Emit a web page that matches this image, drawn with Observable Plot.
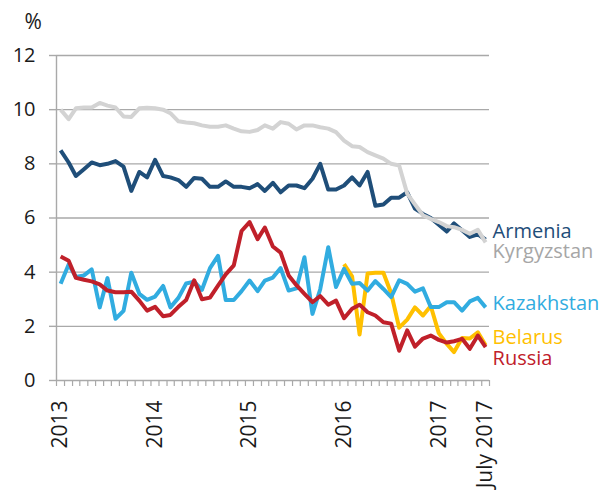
<!DOCTYPE html>
<html>
<head>
<meta charset="utf-8">
<script src="https://cdn.jsdelivr.net/npm/d3@7"></script>
<script src="https://cdn.jsdelivr.net/npm/@observablehq/plot@0.6"></script>
<style>
  html, body { margin: 0; padding: 0; background: #fff; }
  #chart { width: 608px; height: 492px; }
</style>
</head>
<body>
<div id="chart"></div>
<script>
// ---- Data (monthly, Jan 2013 – July 2017) ----
const countries = ["Armenia", "Belarus", "Kazakhstan", "Kyrgyzstan", "Russia"];

const armenia = [8.5, 8.05, 7.55, 7.8, 8.05, 7.95, 8.0, 8.1, 7.9, 7.0,
  7.7, 7.5, 8.15, 7.55, 7.5, 7.4, 7.15, 7.48, 7.45, 7.15,
  7.15, 7.35, 7.15, 7.15, 7.1, 7.25, 7.0, 7.3, 6.95, 7.2,
  7.2, 7.1, 7.45, 8.0, 7.05, 7.05, 7.2, 7.5, 7.2, 7.7,
  6.45, 6.5, 6.75, 6.75, 6.95, 6.35, 6.15, 6.0, 5.75, 5.5,
  5.8, 5.55, 5.3, 5.4, 5.2];

const kyrgyzstan = [10.0, 9.65, 10.05, 10.08, 10.08, 10.25, 10.15, 10.08, 9.75, 9.73,
  10.05, 10.07, 10.05, 10.0, 9.87, 9.57, 9.53, 9.5, 9.42, 9.37,
  9.37, 9.42, 9.3, 9.2, 9.18, 9.25, 9.42, 9.3, 9.54, 9.48,
  9.27, 9.42, 9.42, 9.35, 9.3, 9.17, 8.86, 8.65, 8.62, 8.43,
  8.31, 8.19, 8.0, 7.94, 6.9, 6.5, 6.1, 5.97, 5.85, 5.7,
  5.66, 5.56, 5.42, 5.56, 5.1];

const kazakhstan = [3.57, 4.28, 3.82, 3.88, 4.1, 2.7, 3.78, 2.28, 2.57, 3.98,
  3.2, 2.98, 3.1, 3.49, 2.7, 3.05, 3.58, 3.65, 3.35, 4.15,
  4.6, 2.97, 2.97, 3.3, 3.69, 3.3, 3.69, 3.8, 4.15, 3.32,
  3.4, 4.55, 2.46, 3.37, 4.92, 3.45, 4.12, 3.57, 3.6, 3.32,
  3.67, 3.38, 3.08, 3.7, 3.57, 3.28, 3.4, 2.71, 2.71, 2.89,
  2.89, 2.58, 2.92, 3.05, 2.7];

const belarus = [null, null, null, null, null, null, null, null, null, null,
  null, null, null, null, null, null, null, null, null, null,
  null, null, null, null, null, null, null, null, null, null,
  null, null, null, null, null, null, 4.3, 3.85, 1.7, 3.95,
  3.98, 3.98, 3.22, 1.95, 2.25, 2.7, 2.4, 2.75, 1.75, 1.35,
  1.05, 1.57, 1.55, 1.78, 1.3];

const russia = [4.58, 4.42, 3.79, 3.72, 3.66, 3.55, 3.32, 3.26, 3.26, 3.28,
  2.95, 2.58, 2.72, 2.37, 2.42, 2.72, 2.97, 3.7, 3.0, 3.06,
  3.5, 3.92, 4.25, 5.52, 5.85, 5.22, 5.65, 4.95, 4.72, 3.88,
  3.52, 3.2, 2.89, 3.12, 2.8, 2.95, 2.3, 2.65, 2.8, 2.52,
  2.4, 2.15, 2.1, 1.1, 1.85, 1.25, 1.55, 1.66, 1.5, 1.4,
  1.45, 1.54, 1.17, 1.66, 1.23];

const yTicks = [0, 2, 4, 6, 8, 10, 12];
const xTickLabels = ["2013", "2014", "2015", "2016", "2017", "July 2017"];
const xTickMonths = ["2013-01", "2014-01", "2015-01", "2016-01", "2017-01", "2017-07"];
const unitLabel = "%";

// ---- Styles ----
const lineColors = {Armenia: "#1F4E79", Belarus: "#FFC000", Kazakhstan: "#31ACE0", Kyrgyzstan: "#D3D3D3", Russia: "#C0202A"};
const textColors = {Armenia: "#1F4E79", Belarus: "#FFC000", Kazakhstan: "#31ACE0", Kyrgyzstan: "#A6A6A6", Russia: "#C0202A"};
const labelOrder = ["Armenia", "Kyrgyzstan", "Kazakhstan", "Belarus", "Russia"];
const labelDy = {Armenia: -8, Kyrgyzstan: 9, Kazakhstan: -4, Belarus: -8, Russia: 11};

// ---- Build tables ----
const seriesValues = {Armenia: armenia, Belarus: belarus, Kazakhstan: kazakhstan, Kyrgyzstan: kyrgyzstan, Russia: russia};
const months = d3.utcMonths(new Date(Date.UTC(2013, 0, 1)), new Date(Date.UTC(2017, 7, 1)));
const data = countries.flatMap(c =>
  seriesValues[c].map((v, i) => ({country: c, date: months[i], value: v})).filter(d => d.value != null)
);
const parseMonth = d3.utcParse("%Y-%m");
const xTicks = xTickMonths.map((m, i) => ({date: parseMonth(m), label: xTickLabels[i]}));
const xStart = d3.utcDay.offset(d3.utcMonth.offset(months[0], -1), 15);
const xEnd = d3.utcDay.offset(months[months.length - 1], 15);
const boundaries = d3.utcMonths(d3.utcMonth.offset(months[0], -1), d3.utcMonth.offset(months[months.length - 1], 1))
  .map(d => d3.utcDay.offset(d, 15));
const endLabels = labelOrder.map(c => {
  const vals = seriesValues[c];
  return {country: c, date: months[vals.length - 1], value: vals[vals.length - 1]};
});

const gridColor = "#A9A9A9";

const chart = Plot.plot({
  width: 608,
  height: 492,
  marginTop: 55,
  marginBottom: 112,
  marginLeft: 56,
  marginRight: 119,
  style: {fontFamily: "'Open Sans', sans-serif", fontSize: "20px", background: "#fff", overflow: "visible", color: "#1a1a1a"},
  x: {type: "utc", domain: [xStart, xEnd], axis: null},
  y: {domain: [0, 12], axis: null},
  marks: [
    Plot.ruleY(yTicks, {stroke: gridColor, strokeWidth: 1.4}),
    Plot.axisY({ticks: yTicks, tickSize: 7, tickPadding: 14, stroke: gridColor, strokeWidth: 1.4, fontSize: 20, label: null, tickFormat: d => String(d)}),
    Plot.ruleX([xStart], {stroke: gridColor, strokeWidth: 1.4}),
    Plot.axisX({ticks: boundaries, tickSize: 6, stroke: gridColor, strokeWidth: 1.2, tickFormat: () => "", label: null}),
    Plot.line(data, {
      x: "date", y: "value", z: "country",
      stroke: d => lineColors[d.country],
      strokeWidth: 4, strokeLinejoin: "round", strokeLinecap: "butt"
    }),
    Plot.text(xTicks, {
      x: "date", y: () => 0, text: "label", rotate: -90, textAnchor: "end",
      lineAnchor: "middle", dy: 20, fontSize: 21, fill: "#1a1a1a"
    }),
    Plot.text([unitLabel], {frameAnchor: "top-left", lineAnchor: "middle", dx: -32, dy: -33, fontSize: 21, fill: "#1a1a1a"}),
    ...endLabels.map(l => Plot.text([l], {
      x: "date", y: "value", text: "country", textAnchor: "start",
      fill: textColors[l.country], dx: 7, dy: labelDy[l.country], fontSize: 20
    }))
  ]
});
document.getElementById("chart").appendChild(chart);
</script>
</body>
</html>
